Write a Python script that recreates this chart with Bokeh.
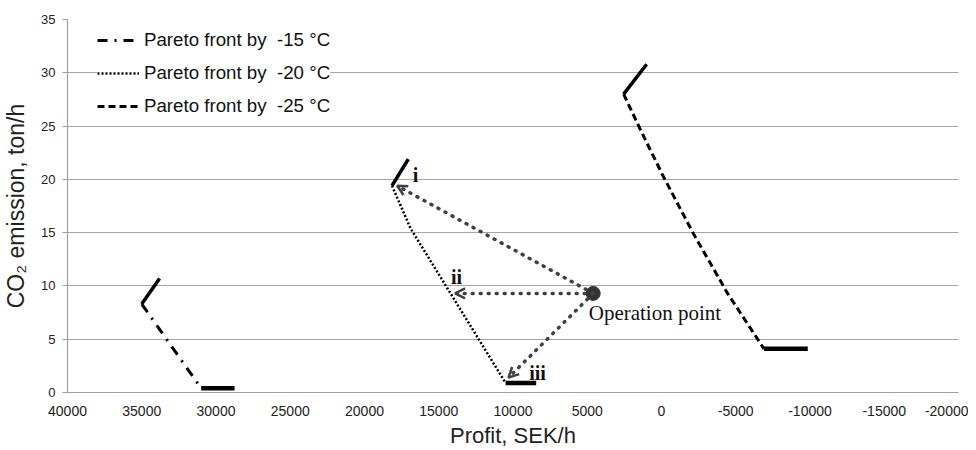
from bokeh.plotting import figure
from bokeh.models import Range1d, FixedTicker, Legend, LegendItem, Arrow, OpenHead, ColumnDataSource
from bokeh.core.properties import value
from bokeh.embed import file_html
from bokeh.resources import INLINE

# ---- data ----
profit_15 = [33800, 35000, 31000, 28750]
co2_15 = [10.7, 8.3, 0.4, 0.4]

profit_20 = [17050, 18150, 16900, 10500, 8440]
co2_20 = [21.9, 19.4, 15.4, 0.9, 0.9]

profit_25 = [1000, 2550, 1400, -150, -2150, -4450, -6900, -9850]
co2_25 = [30.8, 28.0, 24.6, 20.2, 14.9, 9.3, 4.1, 4.1]

op_profit = 4600
op_co2 = 9.3

arrow_tip_profit = [17800, 13900, 10300]
arrow_tip_co2 = [19.4, 9.3, 1.4]

tag_labels = ["i", "ii", "iii"]
tag_profit = [16570, 13800, 8350]
tag_co2 = [20.4, 10.8, 1.8]

legend_labels = ["Pareto front by  -15 \u00b0C", "Pareto front by  -20 \u00b0C", "Pareto front by  -25 \u00b0C"]

x_ticks = [40000, 35000, 30000, 25000, 20000, 15000, 10000, 5000, 0,
           -5000, -10000, -15000, -20000]
x_tick_labels = ["40000", "35000", "30000", "25000", "20000", "15000", "10000", "5000", "0",
                 "-5000", "-10000", "-15000", "-20000"]
y_ticks = [0, 5, 10, 15, 20, 25, 30, 35]

# ---- figure ----
p = figure(width=968, height=450, output_backend="svg", toolbar_location=None,
           x_range=Range1d(40000, -20000), y_range=Range1d(0, 35),
           min_border_left=67, min_border_right=10, min_border_top=19, min_border_bottom=58)
p.outline_line_color = None
p.background_fill_color = "white"

p.xgrid.visible = False
p.ygrid.grid_line_color = "#a6a6a6"
p.ygrid.grid_line_width = 1.2
p.ygrid.ticker = FixedTicker(ticks=y_ticks)

p.xaxis.ticker = FixedTicker(ticks=x_ticks)
p.xaxis.major_label_overrides = {t: s for t, s in zip(x_ticks, x_tick_labels)}
p.yaxis.ticker = FixedTicker(ticks=y_ticks)

p.xaxis.axis_label = "Profit, SEK/h"
p.yaxis.axis_label = "CO\u2082 emission, ton/h"
for ax in (p.xaxis, p.yaxis):
    ax.axis_line_color = "#a0a0a0"
    ax.axis_line_width = 1.2
    ax.major_tick_line_color = "#a0a0a0"
    ax.minor_tick_line_color = None
    ax.major_label_text_font = "Liberation Sans"
    ax.major_label_text_color = "#222222"
    ax.axis_label_text_font = "Liberation Sans"
    ax.axis_label_text_font_style = "normal"
    ax.axis_label_text_color = "#222222"

p.xaxis.major_tick_in = 0
p.xaxis.major_tick_out = 0
p.xaxis.major_label_text_font_size = "14px"
p.xaxis.major_label_standoff = 13
p.xaxis.axis_label_text_font_size = "22px"
p.xaxis.axis_label_standoff = 4

p.yaxis.major_tick_in = 0
p.yaxis.major_tick_out = 5
p.yaxis.major_label_text_font_size = "13px"
p.yaxis.major_label_standoff = 7
p.yaxis.axis_label_text_font_size = "23px"
p.yaxis.axis_label_standoff = 9

# ---- fronts ----
def front(xs, ys, dash, dash_width):
    p.line(xs[0:2], ys[0:2], line_color="black", line_width=3.5)
    r = p.line(xs[1:-1], ys[1:-1], line_color="black", line_width=dash_width, line_dash=dash)
    p.line(xs[-2:], ys[-2:], line_color="black", line_width=4.5)
    return r

r15 = front(profit_15, co2_15, "10 7 2 7", 3)
r20 = front(profit_20, co2_20, "2 2", 2.5)
r25 = front(profit_25, co2_25, "7 4", 3)

# ---- arrows from operation point ----
asrc = ColumnDataSource(dict(
    x0=[op_profit] * len(arrow_tip_profit), y0=[op_co2] * len(arrow_tip_co2),
    x1=arrow_tip_profit, y1=arrow_tip_co2))
p.add_layout(Arrow(source=asrc, x_start="x0", y_start="y0", x_end="x1", y_end="y1",
                   line_color="#404040", line_width=3.5, line_dash="1 7", line_cap="round",
                   end=OpenHead(size=10, line_color="#404040", line_width=2.5)))

p.scatter([op_profit], [op_co2], size=14, color="#333333")

p.text([op_profit + 300], [op_co2 - 1.8], text=["Operation point"],
       text_font=value("Liberation Serif"), text_font_size="21px",
       text_baseline="middle", text_align="left", text_color="#111111")

p.text(tag_profit, tag_co2, text=tag_labels,
       text_font=value("Liberation Serif"), text_font_size="20px", text_font_style="bold",
       text_baseline="middle", text_align="center", text_color="#111111")

# ---- legend ----
legend = Legend(items=[LegendItem(label=legend_labels[0], renderers=[r15]),
                       LegendItem(label=legend_labels[1], renderers=[r20]),
                       LegendItem(label=legend_labels[2], renderers=[r25])],
                location=(30, 275))
legend.background_fill_color = "white"
legend.background_fill_alpha = 1.0
legend.border_line_color = None
legend.label_text_font = "Liberation Sans"
legend.label_text_font_size = "18.7px"
legend.label_text_color = "#111111"
legend.glyph_width = 42
legend.glyph_height = 22
legend.label_height = 22
legend.spacing = 11
legend.padding = 5
legend.margin = 0
legend.label_standoff = 5
p.add_layout(legend)

open("out.html", "w").write(file_html(p, INLINE))
